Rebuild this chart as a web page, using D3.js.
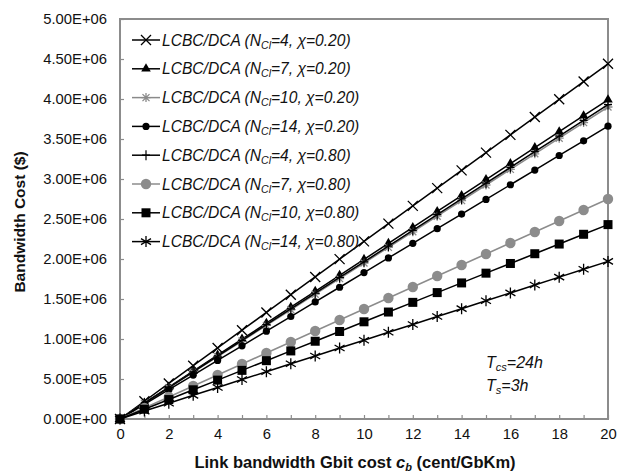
<!DOCTYPE html>
<html>
<head>
<meta charset="utf-8">
<script src="https://cdn.jsdelivr.net/npm/d3@7"></script>
<style>
  body { margin: 0; background: #fff; }
  text { font-family: "Liberation Sans", Arial, sans-serif; }
</style>
</head>
<body>
<div id="chart"></div>
<script>
// link bandwidth Gbit cost (cent/GbKm)
const costs = d3.range(0, 21);
const xTickLabels = [0, 2, 4, 6, 8, 10, 12, 14, 16, 18, 20];
const yTickValues = [0, 5e5, 1e6, 1.5e6, 2e6, 2.5e6, 3e6, 3.5e6, 4e6, 4.5e6, 5e6];

// bandwidth cost (units of 1e5 $)
const n4_020 = [0, 2.22, 4.44, 6.66, 8.88, 11.1, 13.32, 15.54, 17.76, 19.98, 22.2, 24.42, 26.64, 28.86, 31.08, 33.3, 35.52, 37.74, 39.96, 42.18, 44.4];
const n7_020 = [0, 2.0, 3.99, 5.99, 7.98, 9.98, 11.97, 13.97, 15.96, 17.96, 19.95, 21.95, 23.94, 25.94, 27.93, 29.93, 31.92, 33.92, 35.91, 37.91, 39.9];
const n10_020 = [0, 1.95, 3.9, 5.85, 7.8, 9.75, 11.7, 13.65, 15.6, 17.55, 19.5, 21.45, 23.4, 25.35, 27.3, 29.25, 31.2, 33.15, 35.1, 37.05, 39.0];
const n14_020 = [0, 1.83, 3.66, 5.49, 7.32, 9.15, 10.98, 12.81, 14.64, 16.47, 18.3, 20.13, 21.96, 23.79, 25.62, 27.45, 29.28, 31.11, 32.94, 34.77, 36.6];
const n4_080 = [0, 1.97, 3.93, 5.9, 7.86, 9.83, 11.79, 13.76, 15.72, 17.69, 19.65, 21.62, 23.58, 25.55, 27.51, 29.48, 31.44, 33.41, 35.37, 37.34, 39.3];
const n7_080 = [0, 1.38, 2.75, 4.13, 5.5, 6.88, 8.25, 9.63, 11.0, 12.38, 13.75, 15.13, 16.5, 17.88, 19.25, 20.63, 22.0, 23.38, 24.75, 26.13, 27.5];
const n10_080 = [0, 1.22, 2.43, 3.65, 4.86, 6.08, 7.29, 8.51, 9.72, 10.94, 12.15, 13.37, 14.58, 15.8, 17.01, 18.23, 19.44, 20.66, 21.87, 23.09, 24.3];
const n14_080 = [0, 0.99, 1.97, 2.96, 3.94, 4.93, 5.91, 6.9, 7.88, 8.87, 9.85, 10.84, 11.82, 12.81, 13.79, 14.78, 15.76, 16.75, 17.73, 18.72, 19.7];

const seriesNCl = [4, 7, 10, 14, 4, 7, 10, 14];
const seriesChi = ["0.20", "0.20", "0.20", "0.20", "0.80", "0.80", "0.80", "0.80"];
const seriesValues = [n4_020, n7_020, n10_020, n14_020, n4_080, n7_080, n10_080, n14_080];

const width = 619, height = 473;
const margin = {left: 120, right: 11, top: 19, bottom: 54};

const svg = d3.select("#chart").append("svg")
    .attr("width", width)
    .attr("height", height);

const x = d3.scaleLinear().domain([0, 20]).range([margin.left, width - margin.right]);
const y = d3.scaleLinear().domain([0, 5e6]).range([height - margin.bottom, margin.top]);

const axisGray = "#8c8c8c";

// frame
svg.append("rect")
    .attr("x", x(0)).attr("y", y(5e6))
    .attr("width", x(20) - x(0)).attr("height", y(0) - y(5e6))
    .attr("fill", "none").attr("stroke", axisGray).attr("stroke-width", 2);

// y axis (ticks inside)
const yAxis = svg.append("g")
    .attr("transform", `translate(${x(0)},0)`)
    .call(d3.axisLeft(y).tickValues(yTickValues).tickSize(-4).tickPadding(13)
        .tickFormat(d => d3.format(".2e")(d).replace("e", "E").replace(/E([+-])(\d)$/, "E$10$2")));
yAxis.select(".domain").remove();
yAxis.selectAll(".tick line").attr("stroke", axisGray).attr("stroke-width", 1.2);
yAxis.selectAll(".tick text").attr("font-size", 14.8).attr("fill", "#111")
    .attr("font-family", "Liberation Sans, Arial, sans-serif");

// x axis: minor ticks at every unit, labels at even ones
const xAxis = svg.append("g")
    .attr("transform", `translate(0,${y(0)})`)
    .call(d3.axisBottom(x).tickValues(costs).tickSize(-4).tickPadding(9)
        .tickFormat(d => xTickLabels.includes(d) ? d : ""));
xAxis.select(".domain").remove();
xAxis.selectAll(".tick line").attr("stroke", axisGray).attr("stroke-width", 1.2);
xAxis.selectAll(".tick text").attr("font-size", 14.8).attr("fill", "#111")
    .attr("font-family", "Liberation Sans, Arial, sans-serif");

// marker drawing
function drawMarker(g, kind, cx, cy) {
    const k = g.append("g").attr("transform", `translate(${cx},${cy})`);
    if (kind === "x") {
        k.append("path").attr("d", "M-5,-5L5,5M-5,5L5,-5").attr("stroke", "#000").attr("stroke-width", 1.3);
    } else if (kind === "triangle") {
        k.append("path").attr("d", d3.symbol(d3.symbolTriangle, 40)()).attr("fill", "#000");
    } else if (kind === "graystar") {
        k.append("path").attr("d", "M-4.5,0L4.5,0M0,-4.5L0,4.5M-3.5,-3.5L3.5,3.5M-3.5,3.5L3.5,-3.5")
            .attr("stroke", "#8a8a8a").attr("stroke-width", 1.3);
    } else if (kind === "dot") {
        k.append("circle").attr("r", 3.6).attr("fill", "#000");
    } else if (kind === "plus") {
        k.append("path").attr("d", "M0,-5L0,5M-4,0L4,0").attr("stroke", "#000").attr("stroke-width", 1.2);
    } else if (kind === "graydot") {
        k.append("circle").attr("r", 5.2).attr("fill", "#8c8c8c");
    } else if (kind === "square") {
        k.append("rect").attr("x", -4.5).attr("y", -4.5).attr("width", 9).attr("height", 9).attr("fill", "#000");
    } else if (kind === "asterisk") {
        k.append("path").attr("d", "M0,-5.5L0,5.5M-5,-3L5,3M-5,3L5,-3")
            .attr("stroke", "#000").attr("stroke-width", 1.3);
    }
}

const markerKinds = ["x", "triangle", "graystar", "dot", "plus", "graydot", "square", "asterisk"];
const lineColors = ["#000", "#000", "#8a8a8a", "#000", "#000", "#8c8c8c", "#000", "#000"];

const line = d3.line()
    .x((d, i) => x(costs[i]))
    .y(d => y(d * 1e5));

const plot = svg.append("g");
seriesValues.forEach((vals, s) => {
    const g = plot.append("g");
    g.append("path")
        .attr("d", line(vals))
        .attr("fill", "none")
        .attr("stroke", lineColors[s])
        .attr("stroke-width", 1.5);
    vals.forEach((v, i) => drawMarker(g, markerKinds[s], x(costs[i]), y(v * 1e5)));
});

// legend
const legend = svg.append("g");
seriesValues.forEach((vals, s) => {
    const ly = 40 + s * 28.8;
    legend.append("line")
        .attr("x1", 132).attr("x2", 160).attr("y1", ly).attr("y2", ly)
        .attr("stroke", lineColors[s]).attr("stroke-width", 1.5);
    drawMarker(legend, markerKinds[s], 146, ly);
    const t = legend.append("text")
        .attr("x", 162).attr("y", ly + 5.5)
        .attr("font-size", 15.6).attr("font-style", "italic").attr("fill", "#111");
    t.append("tspan").text("LCBC/DCA (N");
    t.append("tspan").attr("font-size", 10.5).attr("dy", 3).text("Cl");
    t.append("tspan").attr("dy", -3).text(`=${seriesNCl[s]}, χ=${seriesChi[s]})`);
});

// annotation
const ann = svg.append("g").attr("font-size", 16).attr("font-style", "italic").attr("fill", "#111");
const a1 = ann.append("text").attr("x", 486).attr("y", 368);
a1.append("tspan").text("T");
a1.append("tspan").attr("font-size", 11).attr("dy", 3).text("cs");
a1.append("tspan").attr("dy", -3).text("=24h");
const a2 = ann.append("text").attr("x", 486).attr("y", 391);
a2.append("tspan").text("T");
a2.append("tspan").attr("font-size", 11).attr("dy", 3).text("s");
a2.append("tspan").attr("dy", -3).text("=3h");

// axis titles
svg.append("text")
    .attr("transform", `translate(25,${(y(0) + y(5e6)) / 2 + 3}) rotate(-90)`)
    .attr("text-anchor", "middle")
    .attr("font-size", 15.5).attr("font-weight", "bold").attr("fill", "#111")
    .text("Bandwidth Cost ($)");

const xt = svg.append("text")
    .attr("x", 355).attr("y", 468)
    .attr("text-anchor", "middle")
    .attr("font-size", 16.5).attr("font-weight", "bold").attr("fill", "#111");
xt.append("tspan").text("Link bandwidth Gbit cost ");
xt.append("tspan").attr("font-style", "italic").text("c");
xt.append("tspan").attr("font-style", "italic").attr("font-size", 11).attr("dy", 3).text("b");
xt.append("tspan").attr("dy", -3).text(" (cent/GbKm)");
</script>
</body>
</html>
